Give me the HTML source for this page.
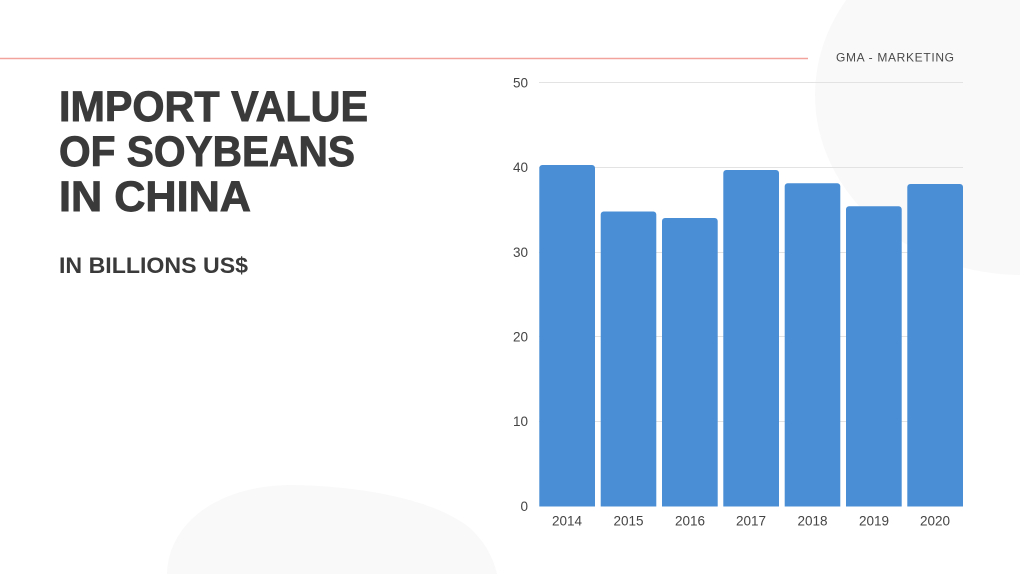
<!DOCTYPE html>
<html>
<head>
<meta charset="utf-8">
<style>
  html,body{margin:0;padding:0;background:#fff;}
  body{width:1020px;height:574px;overflow:hidden;}
  svg{display:block;}
</style>
</head>
<body>
<svg width="1020" height="574" viewBox="0 0 1020 574" xmlns="http://www.w3.org/2000/svg">
  <rect width="1020" height="574" fill="#ffffff"/>
  <!-- background blobs -->
  <ellipse cx="1022" cy="95" rx="207" ry="180" fill="#f9f9f9"/>
  <path d="M167,574 C168,525 215,486 290,485 C365,486 435,500 470,528 C486,543 494,560 497,574 Z" fill="#f9f9f9"/>

  <!-- red line -->
  <line x1="0" y1="58.5" x2="808" y2="58.5" stroke="#f2a49c" stroke-width="1.5"/>

  <!-- header tag -->
  <text x="836" y="61.5" font-family="Liberation Sans, sans-serif" font-size="12" fill="#4a4a4a" textLength="118" lengthAdjust="spacing">GMA - MARKETING</text>

  <!-- title -->
  <g font-family="Liberation Sans, sans-serif" font-weight="bold" fill="#3a3a3a" stroke="#3a3a3a" stroke-width="0.9">
    <text x="59" y="121" font-size="43" textLength="309" lengthAdjust="spacingAndGlyphs">IMPORT VALUE</text>
    <text x="59" y="166" font-size="43" textLength="296" lengthAdjust="spacingAndGlyphs">OF SOYBEANS</text>
    <text x="59" y="211" font-size="43" textLength="192" lengthAdjust="spacingAndGlyphs">IN CHINA</text>
  </g>
  <text x="59" y="273" font-family="Liberation Sans, sans-serif" font-weight="bold" font-size="22" fill="#3a3a3a" textLength="189" lengthAdjust="spacingAndGlyphs">IN BILLIONS US$</text>

  <!-- gridlines -->
  <g stroke="#e3e3e3" stroke-width="1">
    <line x1="539" y1="82.5" x2="963" y2="82.5"/>
    <line x1="539" y1="167.5" x2="963" y2="167.5"/>
    <line x1="539" y1="252.5" x2="963" y2="252.5"/>
    <line x1="539" y1="336.5" x2="963" y2="336.5"/>
    <line x1="539" y1="421.5" x2="963" y2="421.5"/>
  </g>

  <!-- y labels -->
  <g font-family="Liberation Sans, sans-serif" font-size="13.5" fill="#444" text-anchor="end">
    <text x="528" y="87.5">50</text>
    <text x="528" y="172">40</text>
    <text x="528" y="257">30</text>
    <text x="528" y="341.5">20</text>
    <text x="528" y="426">10</text>
    <text x="528" y="511">0</text>
  </g>

  <!-- bars -->
  <g fill="#4a8fd6">
    <path d="M539.3,506.5 V168 a3,3 0 0 1 3,-3 H592 a3,3 0 0 1 3,3 V506.5 Z"/>
    <path d="M600.7,506.5 V214.5 a3,3 0 0 1 3,-3 H653.3 a3,3 0 0 1 3,3 V506.5 Z"/>
    <path d="M662,506.5 V221 a3,3 0 0 1 3,-3 H714.7 a3,3 0 0 1 3,3 V506.5 Z"/>
    <path d="M723.3,506.5 V173 a3,3 0 0 1 3,-3 H776 a3,3 0 0 1 3,3 V506.5 Z"/>
    <path d="M784.7,506.5 V186.3 a3,3 0 0 1 3,-3 H837.3 a3,3 0 0 1 3,3 V506.5 Z"/>
    <path d="M846,506.5 V209.3 a3,3 0 0 1 3,-3 H898.7 a3,3 0 0 1 3,3 V506.5 Z"/>
    <path d="M907.3,506.5 V187 a3,3 0 0 1 3,-3 H960 a3,3 0 0 1 3,3 V506.5 Z"/>
  </g>

  <!-- x labels -->
  <g font-family="Liberation Sans, sans-serif" font-size="13.5" fill="#444" text-anchor="middle">
    <text x="567" y="525.5">2014</text>
    <text x="628.5" y="525.5">2015</text>
    <text x="690" y="525.5">2016</text>
    <text x="751" y="525.5">2017</text>
    <text x="812.5" y="525.5">2018</text>
    <text x="874" y="525.5">2019</text>
    <text x="935" y="525.5">2020</text>
  </g>
</svg>
</body>
</html>
